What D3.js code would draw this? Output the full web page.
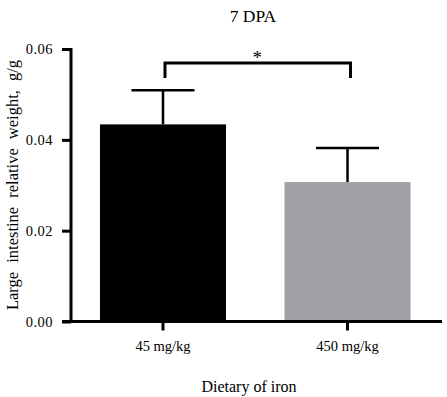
<!DOCTYPE html>
<html>
<head>
<meta charset="utf-8">
<script src="https://cdn.jsdelivr.net/npm/d3@7"></script>
<style>
body { margin: 0; background: #fff; }
svg text { font-family: "Liberation Serif", "Times New Roman", serif !important; fill: #000; }
</style>
</head>
<body>
<svg width="447" height="397"></svg>
<script>
const width = 447;
const height = 397;

var groups = ["45 mg/kg", "450 mg/kg"];
var means = [0.0434, 0.0307];
var sems = [0.0075, 0.0075];
var colors = ["#000000", "#a1a0a5"];
var yTicks = [0, 0.02, 0.04, 0.06];

var svg = d3.select("svg");

var xScale = d3.scaleBand().domain(groups).range([71, 439.5]).paddingInner(0.317).paddingOuter(0.157);
var yScale = d3.scaleLinear().domain([0, 0.06]).range([321.5, 49]);

// bars
svg.selectAll("rect.bar")
  .data(groups)
  .enter()
  .append("rect")
  .attr("class", "bar")
  .attr("x", d => xScale(d))
  .attr("width", xScale.bandwidth())
  .attr("y", (d, i) => yScale(means[i]))
  .attr("height", (d, i) => yScale(0) - yScale(means[i]))
  .attr("fill", (d, i) => colors[i]);

// error bars (upper only)
var err = svg.selectAll("g.err")
  .data(groups)
  .enter()
  .append("g")
  .attr("class", "err")
  .attr("stroke", "#000")
  .attr("stroke-width", 2.5);
err.append("line")
  .attr("x1", d => xScale(d) + xScale.bandwidth() / 2)
  .attr("x2", d => xScale(d) + xScale.bandwidth() / 2)
  .attr("y1", (d, i) => yScale(means[i]))
  .attr("y2", (d, i) => yScale(means[i] + sems[i]));
err.append("line")
  .attr("x1", d => xScale(d) + xScale.bandwidth() * 0.25)
  .attr("x2", d => xScale(d) + xScale.bandwidth() * 0.75)
  .attr("y1", (d, i) => yScale(means[i] + sems[i]))
  .attr("y2", (d, i) => yScale(means[i] + sems[i]));

// y axis
var yAxis = d3.axisLeft(yScale).tickValues(yTicks).tickFormat(d3.format(".2f")).tickSize(9).tickPadding(9);
var gy = svg.append("g").attr("transform", "translate(71,0)").call(yAxis);
gy.attr("font-family", null);
gy.select(".domain").attr("stroke-width", 3).attr("d", "M0,48V323");
gy.selectAll(".tick line").attr("stroke-width", 3);
gy.selectAll(".tick text").attr("font-size", 14.5).attr("letter-spacing", 0.5);

// x axis
var xAxis = d3.axisBottom(xScale).tickSize(9).tickPadding(10);
var gx = svg.append("g").attr("transform", "translate(0,321.5)").call(xAxis);
gx.attr("font-family", null);
gx.select(".domain").attr("stroke-width", 3).attr("d", "M62,0H442");
gx.selectAll(".tick line").attr("stroke-width", 3);
gx.selectAll(".tick text").attr("font-size", 14.5);

// significance bracket
var c0 = xScale(groups[0]) + xScale.bandwidth() / 2;
var c1 = xScale(groups[1]) + xScale.bandwidth() / 2;
svg.append("path")
  .attr("d", `M${c0 + 2},78V63H${c1 + 3}V78`)
  .attr("fill", "none")
  .attr("stroke", "#000")
  .attr("stroke-width", 3);
svg.append("text")
  .attr("x", (c0 + c1) / 2 + 2)
  .attr("y", 64)
  .attr("text-anchor", "middle")
  .attr("font-size", 19)
  .text("*");

// titles
svg.append("text")
  .attr("x", 253)
  .attr("y", 22)
  .attr("text-anchor", "middle")
  .attr("font-size", 17.5)
  .text("7 DPA");

svg.append("text")
  .attr("x", 249)
  .attr("y", 392)
  .attr("text-anchor", "middle")
  .attr("font-size", 16)
  .text("Dietary of iron");

svg.append("text")
  .attr("transform", "translate(18,185) rotate(-90)")
  .attr("text-anchor", "middle")
  .attr("font-size", 16.5)
  .attr("word-spacing", 5)
  .text("Large intestine relative weight, g/g");
</script>
</body>
</html>
